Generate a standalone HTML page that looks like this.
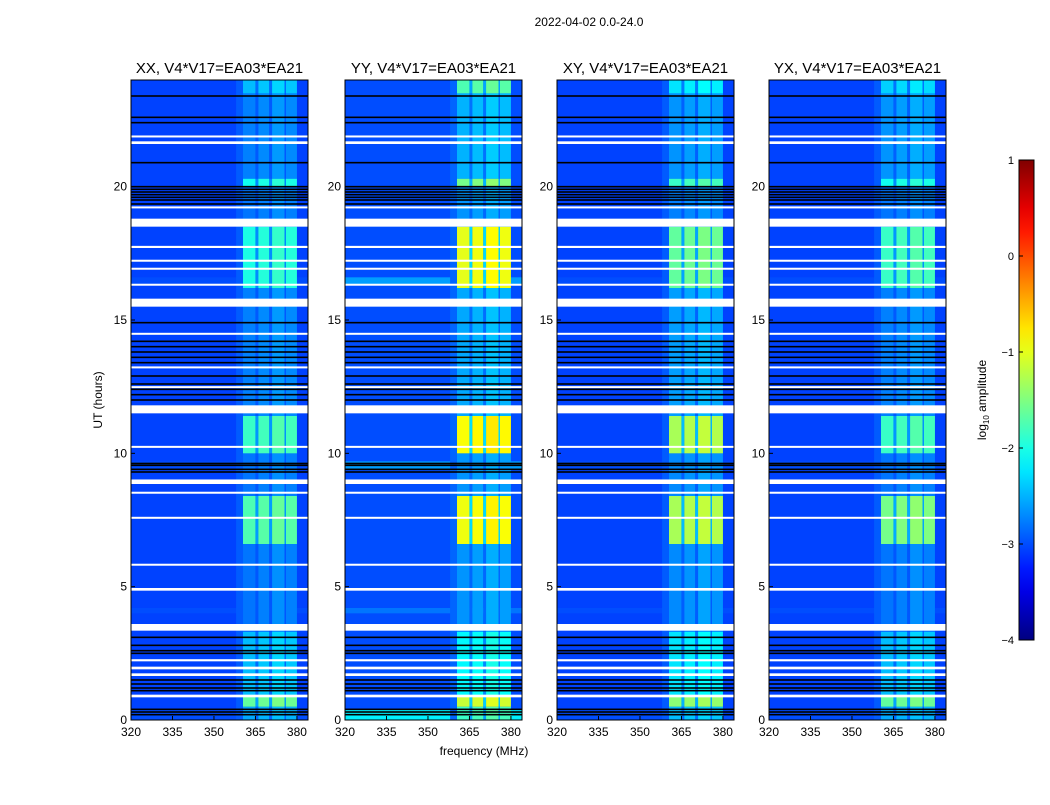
<!DOCTYPE html>
<html><head><meta charset="utf-8"><style>
body{margin:0;background:#fff;}
svg text{font-family:"Liberation Sans",sans-serif;}
</style></head><body>
<svg id="c" width="1050" height="800" xmlns="http://www.w3.org/2000/svg">
<text x="589" y="26" font-size="12" text-anchor="middle">2022-04-02 0.0-24.0</text>
<text transform="translate(102,400) rotate(-90)" font-size="12" text-anchor="middle">UT (hours)</text>
<text x="484" y="755" font-size="12" text-anchor="middle">frequency (MHz)</text>
</svg>
<script>
const panelTitles=["XX, V4*V17=EA03*EA21","YY, V4*V17=EA03*EA21","XY, V4*V17=EA03*EA21","YX, V4*V17=EA03*EA21"];
const xTicks=[320,335,350,365,380];
const yTicks=[0,5,10,15,20];
const cbTicks=[1,0,-1,-2,-3,-4];
const baseLevel=[-3.05,-3.0,-3.05,-3.05];
// RFI subbands (MHz)
const subbands=[[360.5,365],[366,370],[371,375.5],[376,380]];
// time segments: [t0,t1, XX,YY,XY,YX] log10 amplitude inside RFI subbands
const rfiSegs=[
[0,0.5,-2.5,-1.8,-2.4,-2.5],[0.5,0.9,-1.6,-1.1,-1.4,-1.6],[0.9,3.3,-2.4,-2.1,-2.2,-2.4],
[3.3,6.6,-2.75,-2.6,-2.65,-2.75],[6.6,8.4,-1.7,-0.9,-1.25,-1.5],[8.4,10.0,-2.75,-2.6,-2.65,-2.75],
[10.0,11.4,-1.8,-0.85,-1.25,-1.8],[11.4,16.2,-2.7,-2.5,-2.55,-2.7],[16.2,18.5,-1.95,-0.95,-1.6,-1.8],
[18.5,20.0,-2.75,-2.6,-2.7,-2.75],[20.0,20.3,-2.0,-1.5,-1.8,-2.0],[20.3,23.5,-2.7,-2.45,-2.6,-2.6],[23.5,24,-2.4,-1.7,-2.2,-2.3]];
// whole-row elevated segments (all channels): [t0,t1,XX,YY,XY,YX]
const rowSegs=[[0,0.4,-3.0,-2.2,-3.0,-3.0],[16.3,16.6,-3.0,-2.6,-3.0,-3.0],[9.4,9.7,-3.0,-2.6,-3.0,-3.0],[4.0,4.2,-3.0,-2.8,-3.0,-3.0]];
const whiteFlags=[[0.85,0.95],[1.65,1.75],[1.9,2.0],[2.2,2.28],[3.35,3.6],[4.85,4.95],[5.8,5.86],[7.55,7.62],[8.5,8.56],[8.85,9.02],[10.22,10.28],[11.5,11.8],[12.45,12.52],[13.2,13.26],[14.45,14.52],[15.5,15.8],[16.3,16.36],[16.9,16.96],[17.2,17.26],[17.7,17.78],[18.5,18.8],[19.2,19.26],[21.6,21.7],[21.85,21.92]];
const blackLines=[0.2,0.3,0.4,1.1,1.2,1.35,1.5,2.5,2.6,2.8,3.1,9.3,9.4,9.55,9.62,12.0,12.2,12.4,12.6,12.9,13.4,13.6,13.8,14.0,14.2,14.9,19.35,19.5,19.6,19.7,19.8,19.9,20.0,20.9,22.4,22.6,23.4];
const svg=document.getElementById('c');const NS='http://www.w3.org/2000/svg';
const panelX=[131,345,557,769],PW=177,PT=80,PH=640;
function jet(v){let t=Math.max(0,Math.min(1,(v+4)/5));
 const f=x=>Math.max(0,Math.min(1,x));
 const r=f(1.5-Math.abs(4*t-3)),g=f(1.5-Math.abs(4*t-2)),b=f(1.5-Math.abs(4*t-1));
 return `rgb(${Math.round(r*255)},${Math.round(g*255)},${Math.round(b*255)})`;}
function mk(tag,attrs,name,parent){const e=document.createElementNS(NS,tag);for(const k in attrs)e.setAttribute(k,attrs[k]);
 
 
 (parent||svg).appendChild(e);return e;}
panelX.forEach((px,p)=>{
 const xs=f=>px+(f-320)/64*PW, ys=t=>PT+PH-(t/24)*PH;
 const g=mk('g',{},'panel-'+p);
 mk('rect',{x:px,y:PT,width:PW,height:PH,fill:jet(baseLevel[p])},'background-noise',g);
 rowSegs.forEach(s=>{mk('rect',{x:px,y:ys(s[1]),width:PW,height:ys(s[0])-ys(s[1]),fill:jet(s[2+p])},'row-band',g);});
 mk('rect',{x:xs(358),y:PT,width:xs(360.5)-xs(358),height:PH,fill:jet(baseLevel[p]+0.12)},'near-band',g);
 rfiSegs.forEach(s=>{subbands.forEach((b,i)=>{
   const lv=s[2+p]+(i===2?0.08:0)-(i===0?0.05:0);
   mk('rect',{x:xs(b[0]),y:ys(s[1]),width:xs(b[1])-xs(b[0]),height:ys(s[0])-ys(s[1]),fill:jet(lv)},'rfi-cell',g);});
   [[365,366],[370,371],[375.5,376]].forEach(b=>mk('rect',{x:xs(b[0]),y:ys(s[1]),width:xs(b[1])-xs(b[0]),height:ys(s[0])-ys(s[1]),fill:jet((s[2+p]+2*baseLevel[p])/3)},'rfi-gap',g));});
 blackLines.forEach(t=>mk('rect',{x:px,y:ys(t)-0.8,width:PW,height:1.6,fill:'#000'},'black-line',g));
 whiteFlags.forEach(w=>mk('rect',{x:px,y:ys(w[1]),width:PW,height:Math.max(2,ys(w[0])-ys(w[1])),fill:'#fff'},'flagged-row',g));
 mk('rect',{x:px,y:PT,width:PW,height:PH,fill:'none',stroke:'#000','stroke-width':1},'panel-frame',g);
 const tt=mk('text',{x:px+PW/2,y:PT-7,'font-size':15,'text-anchor':'middle'},'panel-title',g);tt.textContent=panelTitles[p];
 xTicks.forEach(v=>{const x=xs(v);mk('line',{x1:x,x2:x,y1:PT+PH,y2:PT+PH-4,stroke:'#000'},'x-tick',g);
  const t=mk('text',{x:x,y:PT+PH+16,'font-size':12,'text-anchor':'middle'},'x-tick-label',g);t.textContent=v;});
 yTicks.forEach(v=>{const y=ys(v);mk('line',{x1:px,x2:px+4,y1:y,y2:y,stroke:'#000'},'y-tick',g);
  const t=mk('text',{x:px-4,y:y+4,'font-size':12,'text-anchor':'end'},'y-tick-label',g);t.textContent=v;});
});
// colorbar
const cbX=1019,cbW=15,cbT=160,cbH=480;
const defs=mk('defs',{},'defs');const lg=mk('linearGradient',{id:'jet',x1:0,y1:1,x2:0,y2:0},'jet-gradient',defs);
for(let i=0;i<=20;i++){mk('stop',{offset:i/20,'stop-color':jet(-4+5*i/20)},'gradient-stop',lg);}
mk('rect',{x:cbX,y:cbT,width:cbW,height:cbH,fill:'url(#jet)',stroke:'#000'},'colorbar',svg);
cbTicks.forEach(v=>{const y=cbT+(1-v)/5*cbH;
 mk('line',{x1:cbX,x2:cbX+4,y1:y,y2:y,stroke:'#000'},'colorbar-tick',svg);
 const t=mk('text',{x:cbX-5,y:y+4,'font-size':11,'text-anchor':'end'},'colorbar-tick-label',svg);t.textContent=(v<0?'\u2212'+(-v):v);});
const cl=mk('text',{transform:'translate(986,400) rotate(-90)','font-size':12,'text-anchor':'middle'},'colorbar-label',svg);
cl.innerHTML='log<tspan font-size="8" dy="3">10</tspan><tspan dy="-3"> amplitude</tspan>';
</script>
</body></html>
